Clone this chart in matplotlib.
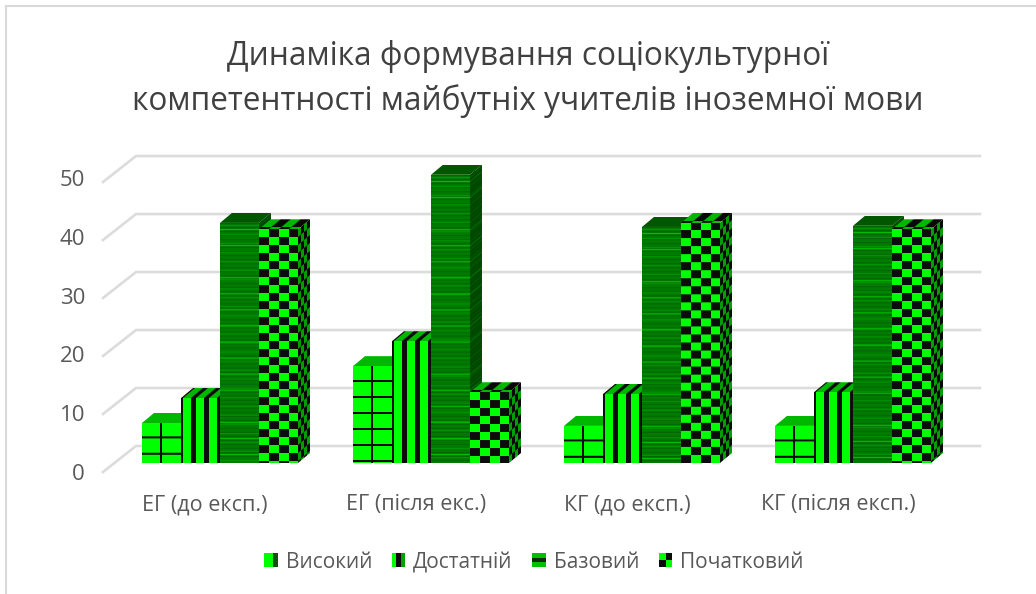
import numpy as np
import matplotlib
matplotlib.use("Agg")
import matplotlib.pyplot as plt
from matplotlib.lines import Line2D
from matplotlib.patches import Rectangle, Patch, Polygon
from matplotlib.legend_handler import HandlerBase
from matplotlib.transforms import Affine2D

plt.rcParams['font.family'] = ['Open Sans', 'DejaVu Sans']

# Values
categories = ['ЕГ (до експ.)', 'ЕГ (після екс.)', 'КГ (до експ.)', 'КГ (після експ.)']
series_names = ['Високий', 'Достатній', 'Базовий', 'Початковий']
vysokyi = [6.9, 16.7, 6.4, 6.4]
dostatnii = [11.2, 21.0, 11.9, 12.2]
bazovyi = [41.4, 49.7, 40.7, 40.9]
pochatkovyi = [40.3, 12.2, 41.4, 40.3]
y_ticks = [0, 10, 20, 30, 40, 50]
title = 'Динаміка формування соціокультурної\nкомпетентності майбутніх учителів іноземної мови'

# pixel scale of the data axes
PX_X = 211.0
PX_Y = 5.8
BAR_W = 39 / PX_X
DEPTH_X = 12 / PX_X
DEPTH_Y = 10 / PX_Y

GREEN = np.array([0, 255, 0]) / 255
BLACK = np.array([12, 12, 12]) / 255
DARK = np.array([0, 122, 0]) / 255
DARK2 = np.array([0, 104, 0]) / 255
MID = np.array([0, 190, 0]) / 255


# Pattern fills, h and w in pixels of the face
def tex_plain(h, w):
    return np.tile(GREEN, (h, w, 1))


def tex_plain_dark(h, w):
    return np.tile(DARK, (h, w, 1))


def tex_grid(h, w):
    img = np.tile(GREEN, (h, w, 1))
    img[:, w // 2 - 1:w // 2 + 1] = BLACK
    img[np.arange(h) % 16 >= 14] = BLACK
    return img


def tex_stripes(h, w):
    img = np.tile(GREEN, (h, w, 1))
    period = max(w / 3, 4)
    cols = ((np.arange(w) + 0.3 * period) % period) < 0.38 * period
    img[:, cols] = BLACK
    return img


def tex_lines(h, w):
    img = np.tile(DARK, (h, w, 1))
    rows = np.arange(h)
    img[rows % 4 == 1] = DARK2
    img[rows % 16 == 7] = MID
    img[rows % 9 == 3] = np.array([0, 150, 0]) / 255
    return img


def tex_check(h, w):
    img = np.tile(GREEN, (h, w, 1))
    cw = max(w / 4, 3)
    xx, yy = np.meshgrid(np.arange(w), np.arange(h))
    img[(np.floor(xx / cw) + np.floor(yy / 8)) % 2 == 1] = BLACK
    return img


textures = [tex_grid, tex_stripes, tex_lines, tex_check]
top_textures = [tex_plain, tex_stripes, tex_plain_dark, tex_check]


def draw_face(ax, tex, h, w, origin, xvec, yvec, shade, z):
    # a textured parallelogram, mapped from the unit square into data coords
    mat = [[xvec[0], yvec[0], origin[0]], [xvec[1], yvec[1], origin[1]], [0, 0, 1]]
    img = tex(max(int(round(h)), 2), max(int(round(w)), 2)) * shade
    im = ax.imshow(img, extent=(0, 1, 0, 1), aspect='auto', origin='upper',
                   interpolation='bilinear', zorder=z,
                   transform=Affine2D(np.array(mat)) + ax.transData)
    o = np.array(origin)
    pts = [o, o + xvec, o + np.array(xvec) + yvec, o + yvec]
    im.set_clip_path(Polygon(pts, closed=True, transform=ax.transData))


class SwatchHandler(HandlerBase):
    def __init__(self, cells):
        super().__init__()
        self.cells = cells

    def create_artists(self, legend, orig_handle, xdescent, ydescent, width, height, fontsize, trans):
        rows = len(self.cells)
        cols = len(self.cells[0])
        size = 13.5 * 72 / 100
        x0 = width - size
        y0 = (height - size) / 2 + 1
        out = []
        for r in range(rows):
            for c in range(cols):
                out.append(Rectangle((x0 + c * size / cols, y0 + (rows - 1 - r) * size / rows),
                                     size / cols, size / rows,
                                     facecolor=self.cells[r][c], edgecolor='none', transform=trans))
        return out


fig = plt.figure(figsize=(10.36, 5.94), dpi=100, facecolor='white')
ax = fig.add_axes([103 / 1036, 1 - 472 / 594, (980 - 103) / 1036, (472 - 150) / 594])
for s in ax.spines.values():
    s.set_visible(False)
ax.patch.set_visible(False)

# wall grid: short diagonal at the left, then the back line
for v in y_ticks:
    ax.plot([-0.5545, (136 - 220) / PX_X, 3.602], [v - 1.55, v + 2.93, v + 2.93],
            color='#dcdcdc', lw=1.9, zorder=0.5, clip_on=False, solid_joinstyle='miter')

all_series = [vysokyi, dostatnii, bazovyi, pochatkovyi]
x = np.arange(len(categories))
z = 2
for s, vals in enumerate(all_series):
    bars = ax.bar(x + (s - 2) * BAR_W, vals, BAR_W, align='edge', color='#00ff00', zorder=1)
    for bar in bars:
        x0, w, v = bar.get_x(), bar.get_width(), bar.get_height()
        h_px = v * PX_Y
        draw_face(ax, textures[s], h_px, DEPTH_X * PX_X, (x0 + w, 0), (DEPTH_X, DEPTH_Y), (0, v), 0.62, z)
        draw_face(ax, top_textures[s], DEPTH_Y * PX_Y, w * PX_X, (x0, v), (w, 0), (DEPTH_X, DEPTH_Y), 0.72, z + 1)
        draw_face(ax, textures[s], h_px, w * PX_X, (x0, 0), (w, 0), (0, v), 1.0, z + 2)
        z += 3

ax.set_xlim(-0.5545, 3.602)
ax.set_ylim(-1.55, 53.97)
ax.set_xticks(x - 0.07)
ax.set_xticklabels(categories, color='#595959', fontsize=15.5)
ax.set_yticks([v * 1.014 - 1.55 for v in y_ticks])
ax.set_yticklabels([str(v) for v in y_ticks], color='#595959', fontsize=16)
ax.tick_params(axis='x', length=0, pad=16)
ax.tick_params(axis='y', length=0, pad=13)

fig.text(528 / 1036, 1 - 79 / 594, title, ha='center', va='center', color='#404040',
         fontsize=22.8, linespacing=1.42)

swatches = [
    [['#00ff00', '#00ff00', '#105010']],
    [['#00ff00', '#0c0c0c', '#00a000']],
    [['#00c000'], ['#0c2c0c'], ['#00c000']],
    [['#00ff00', '#0c0c0c'], ['#0c0c0c', '#00ff00']],
]
handles = [Patch(label=n) for n in series_names]
fig.legend(handles=handles, loc='center', bbox_to_anchor=(534 / 1036, 1 - 563 / 594), ncol=4,
           frameon=False, fontsize=15, labelcolor='#595959', handlelength=0.65,
           handletextpad=0.37, columnspacing=0.95,
           handler_map={h: SwatchHandler(c) for h, c in zip(handles, swatches)})

# only top and left of the outer frame show in the crop
fig.add_artist(Line2D([6 / 1036, 6 / 1036], [0, 1 - 6 / 594], color='#d9d9d9', lw=1.5))
fig.add_artist(Line2D([6 / 1036, 1], [1 - 6 / 594, 1 - 6 / 594], color='#d9d9d9', lw=1.5))

fig.savefig('out.png', dpi=100)
